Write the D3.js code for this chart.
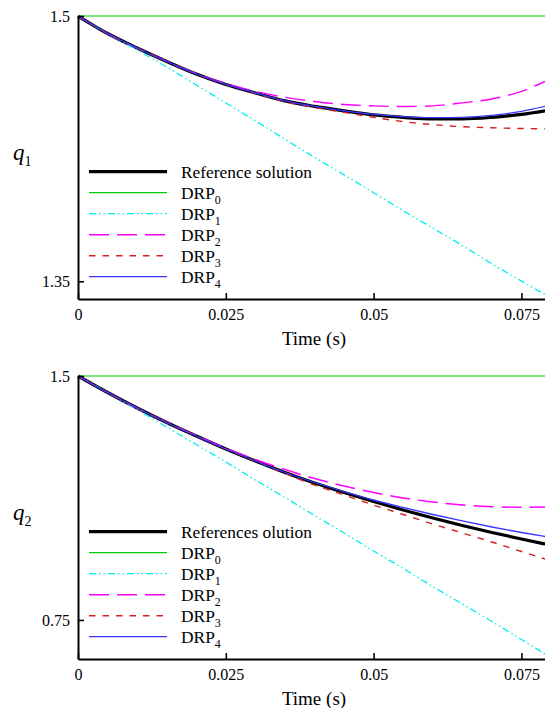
<!DOCTYPE html>
<html>
<head>
<meta charset="utf-8">
<script src="https://cdn.jsdelivr.net/npm/d3@7"></script>
<style>
  body { margin: 0; background: #fff; }
  svg { display: block; }
  text { font-family: "Liberation Serif", "Times New Roman", Times, serif; fill: #000; }
</style>
</head>
<body>
<svg id="chart" width="545" height="708"></svg>
<script>
// Sample times (s)
const time = [0, 0.005, 0.01, 0.015, 0.02, 0.025, 0.03, 0.035, 0.04, 0.045,
              0.05, 0.055, 0.06, 0.065, 0.07, 0.075, 0.079];

// q1 histories
const q1Reference = [1.5, 1.4901, 1.4819, 1.4743, 1.4672, 1.4613, 1.4565, 1.4520, 1.4489,
                     1.4464, 1.4441, 1.4427, 1.4418, 1.4418, 1.4427, 1.4444, 1.4464];
const q1DRP0 = [1.5, 1.5, 1.5, 1.5, 1.5, 1.5, 1.5, 1.5, 1.5, 1.5, 1.5, 1.5, 1.5, 1.5, 1.5, 1.5, 1.5];
const q1DRP1 = [1.5, 1.4900, 1.4808, 1.4712, 1.4610, 1.4509, 1.4407, 1.4303, 1.4201,
                1.4102, 1.4001, 1.3899, 1.3801, 1.3702, 1.3600, 1.3501, 1.3425];
const q1DRP2 = [1.5, 1.4901, 1.4819, 1.4744, 1.4675, 1.4619, 1.4574, 1.4540, 1.4517,
                1.4500, 1.4492, 1.4488, 1.4492, 1.4509, 1.4531, 1.4574, 1.4630];
const q1DRP3 = [1.5, 1.4901, 1.4819, 1.4743, 1.4672, 1.4613, 1.4563, 1.4515, 1.4483,
                1.4455, 1.4427, 1.4403, 1.4386, 1.4374, 1.4368, 1.4364, 1.4362];
const q1DRP4 = [1.5, 1.4901, 1.4819, 1.4743, 1.4672, 1.4613, 1.4565, 1.4520, 1.4489,
                1.4464, 1.4444, 1.4431, 1.4425, 1.4427, 1.4438, 1.4461, 1.4489];

// q2 histories
const q2Reference = [1.5, 1.4493, 1.4016, 1.3571, 1.3156, 1.2756, 1.2387, 1.2033, 1.1711,
                     1.1419, 1.1142, 1.0881, 1.0635, 1.0404, 1.0189, 0.9989, 0.9835];
const q2DRP0 = [1.5, 1.5, 1.5, 1.5, 1.5, 1.5, 1.5, 1.5, 1.5, 1.5, 1.5, 1.5, 1.5, 1.5, 1.5, 1.5, 1.5];
const q2DRP1 = [1.5, 1.4493, 1.3970, 1.3432, 1.2894, 1.2356, 1.1803, 1.1265, 1.0712,
                1.0174, 0.9620, 0.9082, 0.8529, 0.7991, 0.7453, 0.6900, 0.6454];
const q2DRP2 = [1.5, 1.4493, 1.4016, 1.3577, 1.3171, 1.2787, 1.2433, 1.2126, 1.1849,
                1.1618, 1.1419, 1.1250, 1.1127, 1.1034, 1.0982, 1.0964, 1.0973];
const q2DRP3 = [1.5, 1.4493, 1.4016, 1.3571, 1.3156, 1.2756, 1.2387, 1.2003, 1.1649,
                1.1342, 1.1034, 1.0742, 1.0450, 1.0174, 0.9897, 0.9605, 0.9374];
const q2DRP4 = [1.5, 1.4493, 1.4016, 1.3571, 1.3156, 1.2756, 1.2387, 1.2033, 1.1726,
                1.1449, 1.1188, 1.0958, 1.0742, 1.0543, 1.0358, 1.0189, 1.0066];

// Axis ticks
const xTicks = [0, 0.025, 0.05, 0.075];
const xTickLabels = ["0", "0.025", "0.05", "0.075"];
const q1Ticks = [1.35, 1.5];
const q1TickLabels = ["1.35", "1.5"];
const q2Ticks = [0.75, 1.5];
const q2TickLabels = ["0.75", "1.5"];

// Legend text (name + subscript)
const seriesNames = ["Reference solution", "DRP", "DRP", "DRP", "DRP", "DRP"];
const seriesNamesQ2 = ["References olution", "DRP", "DRP", "DRP", "DRP", "DRP"];
const seriesSubs = ["", "0", "1", "2", "3", "4"];

// Line styles per series
const styles = [
  { color: "#000000", width: 3.2, dash: null },
  { color: "#00cc00", width: 1.2, dash: null },
  { color: "#00eeee", width: 1.3, dash: "7,3,1.5,3,1.5,3" },
  { color: "#ff00ff", width: 1.4, dash: "20,8" },
  { color: "#d42020", width: 1.4, dash: "6.5,7" },
  { color: "#3636ff", width: 1.3, dash: null }
];

const svg = d3.select("#chart");
const x = d3.scaleLinear().domain([0, 0.08]).range([78, 551]);

function drawPanel(cfg) {
  const g = svg.append("g");
  const y = d3.scaleLinear().domain(cfg.domain).range([cfg.bottom, cfg.top]);

  const line = d3.line()
    .x((d, i) => x(time[i]))
    .y(d => y(d))
    .curve(d3.curveMonotoneX);

  // series
  cfg.series.forEach((s, k) => {
    const st = styles[k];
    g.append("path")
      .datum(s)
      .attr("d", line)
      .attr("fill", "none")
      .attr("stroke", st.color)
      .attr("stroke-width", st.width)
      .attr("stroke-dasharray", st.dash)
      .attr("stroke-linejoin", "round");
  });

  // axes
  const xAxis = d3.axisBottom(x)
    .tickValues(xTicks)
    .tickFormat((d, i) => xTickLabels[i])
    .tickSizeInner(-6).tickSizeOuter(0).tickPadding(10);
  const ax = g.append("g").attr("transform", `translate(0,${cfg.bottom})`).call(xAxis);

  const yAxis = d3.axisLeft(y)
    .tickValues(cfg.ticks)
    .tickFormat((d, i) => cfg.tickLabels[i])
    .tickSizeInner(-6).tickSizeOuter(0).tickPadding(8);
  const ay = g.append("g").attr("transform", `translate(78,0)`).call(yAxis);

  [ax, ay].forEach(a => {
    a.select(".domain").attr("stroke", "#000").attr("stroke-width", 2);
    a.selectAll(".tick line").attr("stroke", "#000").attr("stroke-width", 1.6);
    a.selectAll(".tick text")
      .attr("font-size", 16)
      .attr("font-family", "'Liberation Serif', 'Times New Roman', serif")
      .attr("fill", "#000");
  });

  // x title
  g.append("text")
    .attr("x", 314).attr("y", cfg.bottom + 45.5)
    .attr("text-anchor", "middle")
    .attr("font-size", 19)
    .text("Time (s)");

  // y title
  const yt = g.append("text")
    .attr("x", 13).attr("y", cfg.labelY)
    .attr("font-size", 23);
  yt.append("tspan").attr("font-style", "italic").text("q");
  yt.append("tspan").attr("font-size", 14).attr("dy", 6).text(cfg.labelSub);

  // legend
  const lg = g.append("g");
  cfg.names.forEach((name, k) => {
    const cy = cfg.top + 155.7 + k * 21;
    const st = styles[k];
    lg.append("line")
      .attr("x1", 89).attr("x2", 167)
      .attr("y1", cy).attr("y2", cy)
      .attr("stroke", st.color)
      .attr("stroke-width", st.width)
      .attr("stroke-dasharray", st.dash);
    const t = lg.append("text")
      .attr("x", 181).attr("y", cy + 6)
      .attr("font-size", 17.4);
    t.append("tspan").text(name);
    if (seriesSubs[k]) {
      t.append("tspan").attr("font-size", 12).attr("dy", 5).text(seriesSubs[k]);
    }
  });
}

drawPanel({
  top: 16, bottom: 299, domain: [1.34, 1.5],
  ticks: q1Ticks, tickLabels: q1TickLabels,
  series: [q1Reference, q1DRP0, q1DRP1, q1DRP2, q1DRP3, q1DRP4],
  names: seriesNames, labelY: 160, labelSub: "1"
});

drawPanel({
  top: 376, bottom: 659, domain: [0.63, 1.5],
  ticks: q2Ticks, tickLabels: q2TickLabels,
  series: [q2Reference, q2DRP0, q2DRP1, q2DRP2, q2DRP3, q2DRP4],
  names: seriesNamesQ2, labelY: 520, labelSub: "2"
});
</script>
</body>
</html>
